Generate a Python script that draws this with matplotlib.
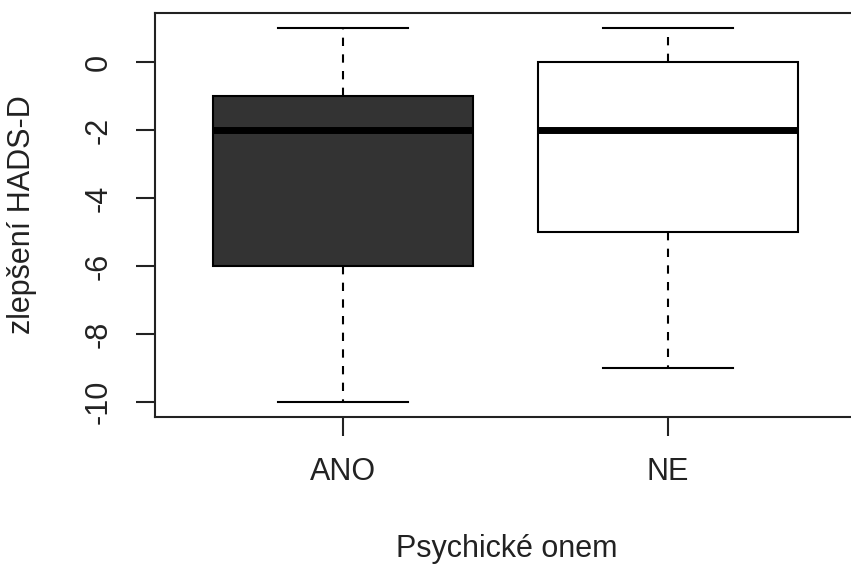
import matplotlib
matplotlib.use("Agg")
from matplotlib import pyplot as plt

plt.rcParams['font.family'] = ['Liberation Sans', 'DejaVu Sans']

# Box statistics
groups = ['ANO', 'NE']
whisker_low = [-10, -9]
q1 = [-6, -5]
median = [-2, -2]
q3 = [-1, 0]
whisker_high = [1, 1]
fills = ['#333333', 'white']

stats = []
for i, g in enumerate(groups):
    stats.append({'label': g, 'whislo': whisker_low[i], 'q1': q1[i], 'med': median[i],
                  'q3': q3[i], 'whishi': whisker_high[i]})

fig = plt.figure(figsize=(8.51, 5.64), dpi=100)
ax = fig.add_axes([155 / 851, 1 - 417 / 564, (856 - 155) / 851, (417 - 13) / 564])

bp = ax.bxp(stats, positions=[1, 2], widths=0.8, patch_artist=True, showfliers=False,
            boxprops=dict(linewidth=1.5, edgecolor='black'),
            whiskerprops=dict(linewidth=1.5, linestyle=(0, (4, 4)), color='black'),
            capprops=dict(linewidth=1.5, color='black'),
            medianprops=dict(linewidth=5, color='black', solid_capstyle='butt'),
            capwidths=0.4)
for patch, c in zip(bp['boxes'], fills):
    patch.set_facecolor(c)

ax.set_xlim(0.42, 2.58)
ax.set_ylim(-10.44, 1.44)
ax.set_yticks([-10, -8, -6, -4, -2, 0])
ax.set_yticklabels(['-10', '-8', '-6', '-4', '-2', '0'], rotation=90, va='center')
ax.set_xticks([1, 2])
ax.set_xticklabels(groups)
ax.tick_params(labelsize=22, length=14, width=1.5, direction='out', colors='#222222')
ax.tick_params(axis='y', pad=16)
ax.tick_params(axis='x', pad=15)
for s in ax.spines.values():
    s.set_linewidth(1.5)
    s.set_color('#222222')

fig.text(22 / 851, 1 - 215 / 564, 'zlepšení HADS-D', rotation=90, fontsize=22,
         ha='center', va='center', color='#222222')
fig.text(507 / 851, 1 - 549 / 564, 'Psychické onem', fontsize=22, ha='center', va='center',
         color='#222222')

fig.savefig('out.png', dpi=100)
